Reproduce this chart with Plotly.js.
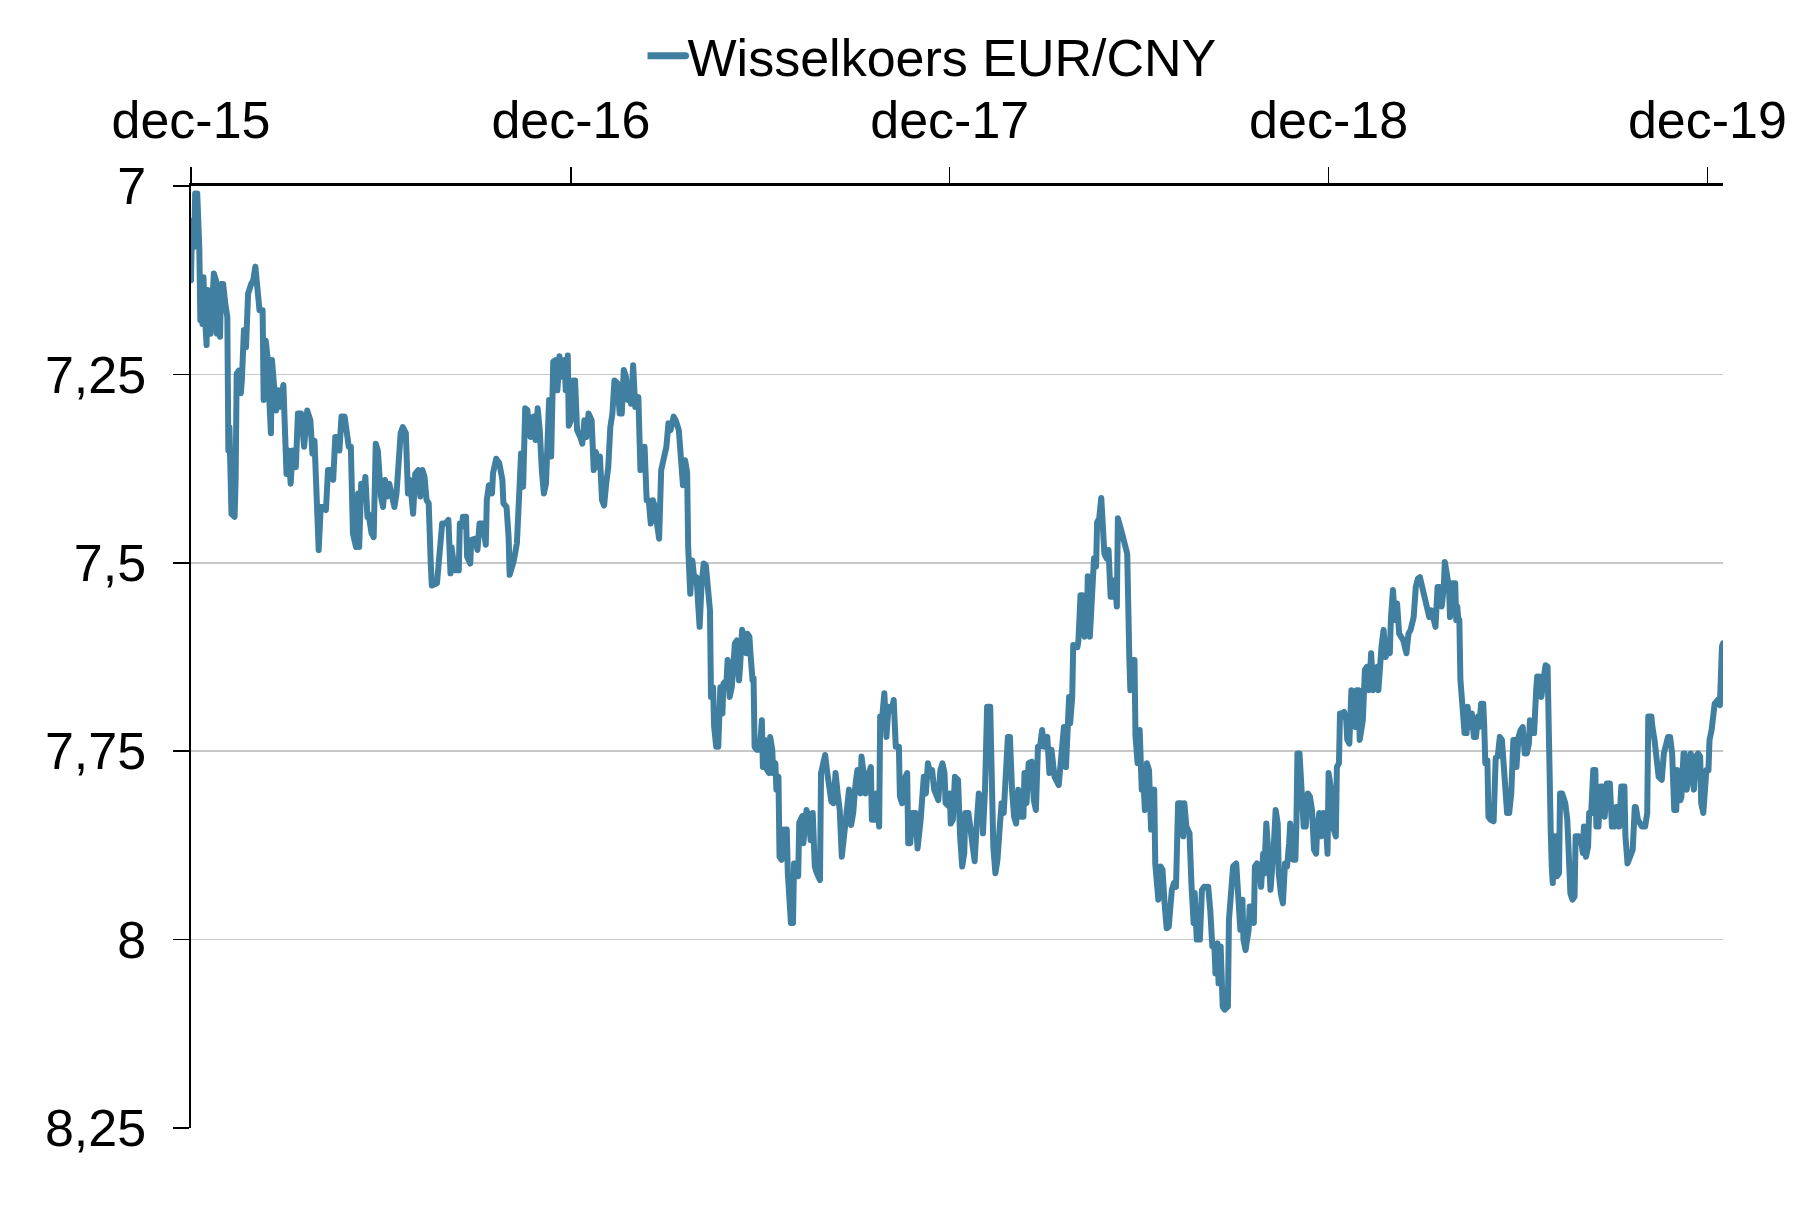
<!DOCTYPE html>
<html>
<head>
<meta charset="utf-8">
<script src="https://cdn.plot.ly/plotly-3.0.1.min.js"></script>
<style>
  html, body { margin: 0; padding: 0; background: #fff; }
  #chart { width: 1806px; height: 1209px; }
  .scatterlayer .js-line { stroke-linejoin: round; stroke-linecap: round; }
  .legend .legendlines path { d: path("M-20,0h58"); stroke-width: 7px !important; stroke-linecap: round; }
</style>
</head>
<body>
<div id="chart"></div>
<script>
// Series: EUR/CNY exchange rate. x = days after the start date, y = rate.
const startDate = [2015, 11, 1]; // 1 december 2015 (month index 11)
const seriesName = 'Wisselkoers EUR/CNY';

const dayOffset = [
0,1,3,4,6,8,9,10,11,12,13,15,16,17,19,20,22,24,25,26,28,29,31,33,35,36,37,39,42,43,44,46,48,49,51,53,55,58,60,62,64,66,69,70,72,74,75,77,78,80,82,84,86,89,90,92,94,96,98,101,103,106,109,110,112,115,117,119,121,123,125,128,130,132,135,137,139,141,143,145,148,150,152,154,156,159,161,162,164,166,168,170,171,174,176,178,180,183,185,187,189,191,194,196,198,200,202,204,207,209,211,214,216,219,221,223,225,227,229,231,
232,237,240,242,245,248,250,251,254,258,259,
261,262,265,266,269,270,274,276,278,281,284,285,287,290,291,294,297,300,301,304,306,307,311,314,316,317,318,320,322,324,327,330,332,334,336,338,340,342,344,345,347,349,351,353,355,357,360,361,363,364,366,368,370,372,375,377,379,381,383,386,388,390,392,394,396,398,400,402,404,406,408,411,413,415,417,419,421,423,424,426,428,431,433,435,437,439,441,443,445,447,449,451,453,455,458,460,462,465,467,470,472,474,476,478,479,481,483,485,487,
489,490,492,494,496,498,500,501,503,504,506,508,510,512,513,516,517,519,521,522,524,526,528,529,531,533,535,536,538,539,541,542,543,545,548,550,551,553,555,557,558,560,561,563,564,566,567,569,571,574,575,576,578,580,581,583,585,586,589,590,593,595,597,599,601,603,606,607,609,611,613,615,617,619,621,623,625,627,629,630,632,634,636,638,640,642,645,646,648,650,652,655,656,659,660,663,664,666,668,670,672,675,677,679,682,683,685,687,690,691,693,695,698,700,703,705,706,708,710,712,714,716,718,720,722,724,726,727,730,
731,732,734,736,739,741,743,745,746,749,751,753,755,757,759,762,763,765,767,770,771,773,775,777,779,781,783,784,786,787,789,791,793,795,797,800,802,803,805,807,810,812,814,816,818,820,822,825,827,829,832,836,839,841,843,846,847,849,850,854,855,857,859,861,863,864,866,869,870,872,873,875,877,880,882,884,886,888,890,892,893,897,900,902,904,905,907,909,910,912,914,916,918,919,921,923,925,928,929,931,932,934,936,938,940,942,945,947,949,951,954,956,957,959,962,964,966,967,969,
972,974,976,978,980,982,984,986,987,989,990,992,994,996,999,1000,1002,1004,1007,1009,1011,1013,1014,1016,1019,1020,1022,1024,1025,1027,1029,1031,1033,1034,1035,1036,1038,1040,1043,1045,1047,1048,1050,1052,1054,1056,1058,1059,1062,1064,1065,1066,1068,1070,1072,1074,1076,1078,1080,1082,1084,1085,1087,1089,1091,1093,1095,1096,1098,1100,1103,1104,1106,1107,1109,1111,1113,1114,1116,1118,1120,1122,1123,1125,1126,1129,1131,1133,1135,1137,1139,1141,1143,1144,1146,1147,1149,1151,1153,1155,1156,1158,1160,1162,1164,1166,1168,1171,1173,1175,1178,1180,1182,1184,1186,1189,1191,1193,1195,1197,1199,1201,1203,1205,1207,1208,1210,1212,1213,1215,1218,1219,
1220,1221,1222,1223,1225,1227,1229,1230,1232,1234,1236,1238,1240,1241,1243,1245,1246,1247,1249,1250,1252,1255,1256,1257,1259,1261,1263,1265,1267,1268,1270,1272,1274,1276,1277,1279,1281,1283,1285,1287,1289,1290,1292,1294,1296,1297,1299,1301,1303,1305,1307,1308,1310,1311,1312,1314,1316,1318,1319,1321,1324,1326,1327,1329,1331,1333,1334,1337,1339,1341,1342,1344,1346,1347,1349,1351,1353,1354,1356,1358,1360,1362,1364,1367,1369,1371,1373,1375,1376,1378,1381,1382,1384,1386,1389,1391,1392,1394,1398,1401,1403,1404,1407,1408,1410,1414,1417,1419,1421,1423,1425,1427,1429,1431,1432,1435,1436,1438,1439,1441,1444,1445,1448,1450,1452,1454,1455,1457,1459,1460,1462,1463,1465,1466,1468,1471,1473,1475,1476
];

const rate = [
7.125,7.046,7.081,7.010,7.010,7.081,7.178,7.121,7.183,7.121,7.160,7.211,7.138,7.178,7.196,7.156,7.116,7.125,7.196,7.138,7.200,7.130,7.130,7.156,7.174,7.351,7.320,7.435,7.439,7.390,7.249,7.245,7.275,7.258,7.191,7.214,7.143,7.130,7.125,7.107,7.152,7.165,7.165,7.284,7.205,7.231,7.271,7.328,7.231,7.271,7.298,7.271,7.293,7.264,7.328,7.382,7.351,7.395,7.351,7.373,7.302,7.302,7.346,7.328,7.298,7.311,7.355,7.338,7.417,7.483,7.426,7.426,7.430,7.377,7.377,7.390,7.333,7.333,7.351,7.306,7.306,7.328,7.346,7.346,7.461,7.479,7.408,7.479,7.395,7.412,7.386,7.439,7.435,7.461,7.466,7.342,7.351,7.412,7.426,7.390,7.412,7.395,7.417,7.426,7.408,7.346,7.328,7.320,7.328,7.408,7.390,7.435,7.382,7.377,7.412,7.377,7.386,7.417,7.421,7.501,
7.530,7.527,7.483,7.448,7.448,7.443,7.514,7.479,7.510,7.510,7.448,
7.452,7.439,7.439,7.492,7.501,7.470,7.468,7.483,7.448,7.448,7.476,7.417,7.397,7.408,7.381,7.362,7.368,7.390,7.421,7.426,7.466,7.516,7.497,7.474,7.417,7.399,7.355,7.399,7.295,7.297,7.333,7.306,7.337,7.295,7.324,7.377,7.408,7.395,7.284,7.284,7.359,7.233,7.231,7.271,7.226,7.253,7.231,7.271,7.225,7.318,7.311,7.258,7.258,7.324,7.333,7.342,7.311,7.333,7.302,7.311,7.377,7.353,7.373,7.359,7.417,7.424,7.395,7.373,7.320,7.302,7.258,7.262,7.302,7.302,7.244,7.253,7.284,7.275,7.289,7.238,7.293,7.280,7.377,7.370,7.346,7.417,7.417,7.448,7.417,7.426,7.448,7.468,7.377,7.364,7.346,7.315,7.324,7.306,7.311,7.324,7.359,7.397,7.364,7.380,7.479,7.541,7.497,7.523,7.519,
7.578,7.585,7.527,7.501,7.503,7.536,7.563,7.678,7.665,7.717,7.744,7.744,7.665,7.700,7.660,7.656,7.629,7.678,7.665,7.647,7.607,7.603,7.656,7.638,7.589,7.603,7.620,7.594,7.598,7.620,7.656,7.653,7.744,7.748,7.748,7.709,7.771,7.735,7.775,7.779,7.731,7.748,7.779,7.766,7.801,7.784,7.890,7.894,7.854,7.854,7.912,7.943,7.978,7.978,7.899,7.899,7.916,7.845,7.836,7.872,7.828,7.836,7.868,7.832,7.903,7.912,7.921,7.779,7.762,7.755,7.779,7.801,7.817,7.819,7.779,7.806,7.828,7.890,7.863,7.850,7.823,7.801,7.848,7.832,7.797,7.775,7.806,7.757,7.779,7.806,7.784,7.771,7.841,7.841,7.806,7.850,7.704,7.704,7.673,7.731,7.691,7.696,7.682,7.744,7.744,7.810,7.819,7.788,7.779,7.872,7.872,7.832,7.832,7.879,7.841,7.797,7.784,7.806,7.766,7.779,7.775,7.801,7.810,7.815,7.775,7.766,7.779,7.819,7.823,
7.806,7.846,7.841,7.784,7.788,7.863,7.903,7.885,7.832,7.832,7.859,7.881,7.896,7.846,7.806,7.819,7.859,7.801,7.691,7.691,7.766,7.877,7.912,7.894,7.854,7.819,7.832,7.784,7.757,7.731,7.731,7.801,7.837,7.846,7.801,7.837,7.837,7.779,7.819,7.766,7.764,7.815,7.828,7.744,7.744,7.722,7.744,7.731,7.779,7.748,7.784,7.795,7.740,7.718,7.771,7.678,7.713,7.678,7.609,7.612,7.603,7.543,7.543,7.598,7.594,7.518,7.598,7.510,7.494,7.505,7.446,7.441,7.414,7.488,7.494,7.483,7.545,7.545,7.523,7.558,7.441,7.461,7.483,7.488,7.625,7.669,7.629,7.629,7.731,7.766,7.722,7.801,7.801,7.828,7.766,7.775,7.854,7.801,7.899,7.934,7.947,7.903,7.907,7.952,7.985,7.983,7.934,7.925,7.930,7.819,7.819,7.863,7.819,7.850,7.859,7.930,7.978,7.938,8.000,
8.000,7.934,7.930,7.930,7.930,7.961,8.009,8.009,8.045,8.005,8.058,8.009,8.089,8.093,8.089,7.974,7.934,7.903,7.899,7.943,7.987,7.947,8.000,8.014,7.987,7.956,7.956,7.978,7.903,7.899,7.903,7.930,7.886,7.912,7.846,7.846,7.886,7.934,7.881,7.828,7.846,7.912,7.939,7.952,7.899,7.903,7.872,7.846,7.894,7.894,7.846,7.753,7.753,7.819,7.850,7.850,7.806,7.810,7.828,7.881,7.886,7.855,7.832,7.863,7.832,7.837,7.886,7.779,7.797,7.850,7.863,7.771,7.766,7.700,7.700,7.698,7.709,7.735,7.740,7.669,7.671,7.718,7.669,7.669,7.735,7.709,7.642,7.638,7.669,7.620,7.669,7.665,7.638,7.669,7.616,7.611,7.589,7.625,7.611,7.620,7.576,7.536,7.576,7.554,7.594,7.598,7.603,7.620,7.594,7.589,7.572,7.532,7.521,7.519,7.532,7.554,7.567,7.572,7.563,7.576,7.585,7.532,7.532,7.558,7.532,7.499,7.514,7.532,7.572,7.527,7.527,7.576,
7.558,7.576,7.576,7.655,7.691,7.726,7.726,7.691,7.718,7.700,7.731,7.731,7.704,7.718,7.687,7.687,7.718,7.766,7.762,7.837,7.841,7.843,7.801,7.759,7.757,7.731,7.735,7.779,7.815,7.832,7.832,7.806,7.735,7.735,7.771,7.731,7.722,7.718,7.753,7.753,7.740,7.709,7.726,7.726,7.669,7.651,7.651,7.678,7.656,7.636,7.638,7.757,7.854,7.903,7.925,7.863,7.916,7.912,7.806,7.806,7.819,7.841,7.890,7.939,7.947,7.943,7.863,7.863,7.867,7.885,7.850,7.890,7.877,7.832,7.832,7.775,7.775,7.850,7.850,7.797,7.797,7.837,7.793,7.793,7.850,7.850,7.824,7.824,7.850,7.797,7.797,7.863,7.899,7.890,7.881,7.824,7.824,7.841,7.850,7.850,7.832,7.704,7.704,7.718,7.735,7.784,7.788,7.753,7.744,7.731,7.731,7.753,7.828,7.828,7.775,7.815,7.810,7.753,7.753,7.801,7.779,7.753,7.801,7.757,7.753,7.757,7.819,7.832,7.797,7.775,7.775,7.735,7.722,7.700,7.687,7.682,7.689,7.611,7.607
];

// Axis ticks
const xTickDates = ['2015-12-01', '2016-12-01', '2017-12-01', '2018-12-01', '2019-12-01'];
const xTickLabels = ['dec-15', 'dec-16', 'dec-17', 'dec-18', 'dec-19'];
const yTickValues = [7, 7.25, 7.5, 7.75, 8, 8.25];
const yRange = [8.25, 7];

function toDate(d) {
  return new Date(Date.UTC(startDate[0], startDate[1], startDate[2] + d)).toISOString().slice(0, 10);
}
const dates = dayOffset.map(toDate);

const trace = {
  x: dates,
  y: rate,
  type: 'scatter',
  mode: 'lines',
  name: seriesName,
  line: { color: 'rgb(65,127,161)', width: 6 }
};

const FONT = '"Liberation Sans", Arial, Helvetica, sans-serif';

const layout = {
  width: 1806,
  height: 1209,
  margin: { l: 191, r: 83, t: 186, b: 81, pad: 0 },
  paper_bgcolor: '#ffffff',
  plot_bgcolor: '#ffffff',
  separators: ',.',
  font: { family: FONT, size: 52, color: '#000000' },
  showlegend: true,
  legend: {
    orientation: 'h',
    x: 0.298, xanchor: 'left',
    y: 1.138, yanchor: 'middle',
    font: { family: FONT, size: 52, color: '#000000' },
    bgcolor: 'rgba(0,0,0,0)',
    borderwidth: 0
  },
  xaxis: {
    type: 'date',
    side: 'top',
    range: [dates[0], dates[dates.length - 1]],
    tickmode: 'array',
    tickvals: xTickDates,
    ticktext: xTickLabels,
    ticks: 'outside',
    ticklen: 16,
    tickwidth: 1.5,
    tickcolor: '#000000',
    ticklabelstandoff: 8,
    showline: true,
    linecolor: '#000000',
    linewidth: 3,
    showgrid: false,
    zeroline: false,
    tickfont: { family: FONT, size: 52, color: '#000000' },
    fixedrange: true
  },
  yaxis: {
    range: yRange,
    tickmode: 'array',
    tickvals: yTickValues,
    ticks: 'outside',
    ticklen: 16,
    tickwidth: 1.5,
    tickcolor: '#000000',
    ticklabelstandoff: 16,
    showline: true,
    linecolor: '#000000',
    linewidth: 2.5,
    showgrid: true,
    gridcolor: '#c8c8c8',
    gridwidth: 1.5,
    zeroline: false,
    tickfont: { family: FONT, size: 52, color: '#000000' },
    fixedrange: true
  }
};

Plotly.newPlot('chart', [trace], layout, { displayModeBar: false, staticPlot: true });
</script>
</body>
</html>
